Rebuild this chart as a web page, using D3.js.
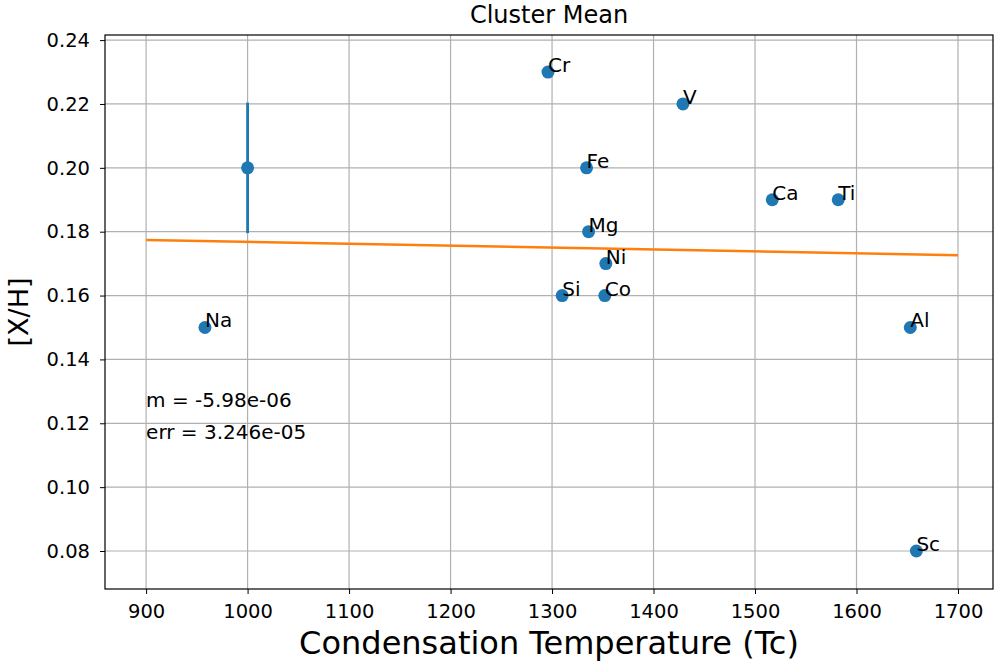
<!DOCTYPE html>
<html>
<head>
<meta charset="utf-8">
<script src="https://cdn.jsdelivr.net/npm/d3@7"></script>
<style>
body{margin:0;background:#fff;}
text{font-family:"DejaVu Sans",sans-serif;fill:#000;}
</style>
</head>
<body>
<svg id="chart" width="995" height="664"></svg>
<script>
// element labels and their condensation temperatures / abundances
const elements=['Na','Cr','V','Fe','Ca','Ti','Mg','Ni','Si','Co','Al','Sc'];
const tc=[958,1296,1429,1334,1517,1582,1336,1353,1310,1352,1653,1659];
const xh=[0.15,0.23,0.22,0.20,0.19,0.19,0.18,0.17,0.16,0.16,0.15,0.08];

// the single point with an error bar
const errX=[1000];
const errY=[0.20];
const errSize=[0.02];

// fitted line
const slope=-5.98e-6;
const intercept=0.18280;
const fitX=[900,1700];

const xTicks=[900,1000,1100,1200,1300,1400,1500,1600,1700];
const yTicks=[0.08,0.10,0.12,0.14,0.16,0.18,0.20,0.22,0.24];
const notes=['m = -5.98e-06','err = 3.246e-05'];
const noteY=[0.125,0.115];

const svg=d3.select('#chart');
const margin={left:105,right:2,top:35,bottom:75};
const W=995,H=664;

var x=d3.scaleLinear().domain([859.5,1734.5]).range([margin.left,W-margin.right]);
var y=d3.scaleLinear().domain([0.0681,0.2416]).range([H-margin.bottom,margin.top]);

// grid
svg.append('g').selectAll('line').data(xTicks).enter().append('line')
  .attr('x1',d=>x(d)).attr('x2',d=>x(d))
  .attr('y1',margin.top).attr('y2',H-margin.bottom)
  .attr('stroke','#b0b0b0').attr('stroke-width',1.2);
svg.append('g').selectAll('line').data(yTicks).enter().append('line')
  .attr('y1',d=>y(d)).attr('y2',d=>y(d))
  .attr('x1',margin.left).attr('x2',W-margin.right)
  .attr('stroke','#b0b0b0').attr('stroke-width',1.2);

// axes
var xAxis=svg.append('g').attr('transform','translate(0,'+(H-margin.bottom)+')')
  .call(d3.axisBottom(x).tickValues(xTicks).tickSize(5).tickPadding(10).tickFormat(d3.format('d')));
var yAxis=svg.append('g').attr('transform','translate('+margin.left+',0)')
  .call(d3.axisLeft(y).tickValues(yTicks).tickSize(5).tickPadding(10).tickFormat(d3.format('.2f')));
[xAxis,yAxis].forEach(function(a){
  a.select('.domain').remove();
  a.selectAll('line').attr('stroke','#000').attr('stroke-width',1);
  a.selectAll('text').style('font-size','19.5px').attr('fill','#000');
});

// frame
svg.append('rect').attr('x',margin.left).attr('y',margin.top)
  .attr('width',W-margin.left-margin.right).attr('height',H-margin.top-margin.bottom)
  .attr('fill','none').attr('stroke','#000').attr('stroke-width',1.2);

// fit line
svg.append('line')
  .attr('x1',x(fitX[0])).attr('y1',y(slope*fitX[0]+intercept))
  .attr('x2',x(fitX[1])).attr('y2',y(slope*fitX[1]+intercept))
  .attr('stroke','#ff7f0e').attr('stroke-width',2.5);

// error bar point
svg.append('g').selectAll('line').data(errX).enter().append('line')
  .attr('x1',d=>x(d)).attr('x2',d=>x(d))
  .attr('y1',(d,i)=>y(errY[i]-errSize[i])).attr('y2',(d,i)=>y(errY[i]+errSize[i]))
  .attr('stroke','#1f77b4').attr('stroke-width',2.8).attr('stroke-linecap','square');
svg.append('g').selectAll('circle').data(errX).enter().append('circle')
  .attr('cx',d=>x(d)).attr('cy',(d,i)=>y(errY[i])).attr('r',6.5)
  .attr('fill','#1f77b4');

// scatter
svg.append('g').selectAll('circle').data(tc).enter().append('circle')
  .attr('cx',d=>x(d)).attr('cy',(d,i)=>y(xh[i])).attr('r',6.5)
  .attr('fill','#1f77b4');

svg.append('g').selectAll('text').data(elements).enter().append('text')
  .attr('x',(d,i)=>x(tc[i])).attr('y',(d,i)=>y(xh[i]))
  .style('font-size','20px').text(d=>d);

// notes
svg.append('g').selectAll('text').data(notes).enter().append('text')
  .attr('x',x(900)).attr('y',(d,i)=>y(noteY[i]))
  .style('font-size','20px').text(d=>d);

// titles
svg.append('text').attr('x',(margin.left+W-margin.right)/2).attr('y',23)
  .attr('text-anchor','middle').style('font-size','24px').text('Cluster Mean');
svg.append('text').attr('x',(margin.left+W-margin.right)/2).attr('y',654)
  .attr('text-anchor','middle').style('font-size','32px').text('Condensation Temperature (Tc)');
svg.append('text').attr('transform','translate(28,'+((margin.top+H-margin.bottom)/2)+') rotate(-90)')
  .attr('text-anchor','middle').style('font-size','27px').text('[X/H]');
</script>
</body>
</html>
